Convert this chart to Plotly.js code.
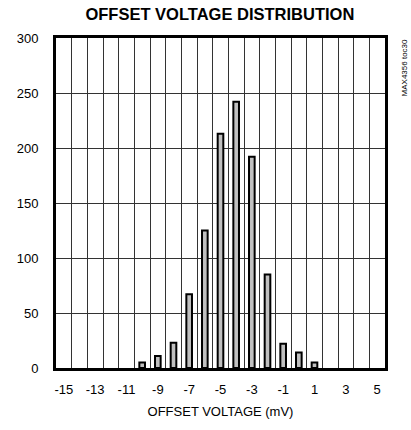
<!DOCTYPE html>
<html>
<head>
<meta charset="utf-8">
<script src="https://cdn.plot.ly/plotly-3.0.1.min.js"></script>
<style>html,body{margin:0;padding:0;background:#fff;}#chart{width:411px;height:430px;}</style>
</head>
<body>
<div id="chart"></div>
<script>
var offsetVoltage = [-10, -9, -8, -7, -6, -5, -4, -3, -2, -1, 0, 1];
var counts = [5, 11, 23, 67, 125, 213, 242, 192, 85, 22, 14, 5];
var xTickVals = [-15, -13, -11, -9, -7, -5, -3, -1, 1, 3, 5];
var xTickText = ["-15", "-13", "-11", "-9", "-7", "-5", "-3", "-1", "1", "3", "5"];
var binEdges = [-14.5, -13.5, -12.5, -11.5, -10.5, -9.5, -8.5, -7.5, -6.5, -5.5, -4.5, -3.5, -2.5, -1.5, -0.5, 0.5, 1.5, 2.5, 3.5, 4.5];
var yTickVals = [0, 50, 100, 150, 200, 250, 300];

var font = "Liberation Sans, Arial, sans-serif";

var trace = {
  type: "bar",
  x: offsetVoltage,
  y: counts,
  width: 0.36,
  marker: {color: "#c0c0c0", line: {color: "#000", width: 2}},
  hoverinfo: "x+y"
};

var layout = {
  width: 411, height: 430,
  margin: {l: 56, r: 26, t: 38, b: 62},
  paper_bgcolor: "#fff", plot_bgcolor: "#fff",
  showlegend: false,
  font: {family: font, color: "#000", size: 13},
  title: {
    text: "<b>OFFSET VOLTAGE DISTRIBUTION</b>",
    font: {family: font, size: 16.5, color: "#000"},
    x: 0.535, xanchor: "center", y: 0.967, yanchor: "middle"
  },
  xaxis: {
    range: [-15.5, 5.5],
    tickmode: "array", tickvals: xTickVals, ticktext: xTickText,
    showgrid: false, zeroline: false,
    ticks: "", ticklabelstandoff: 7,
    showline: true, mirror: true, linecolor: "#000", linewidth: 3,
    tickfont: {family: font, size: 13, color: "#000"},
    minor: {tickmode: "array", tickvals: binEdges, showgrid: true, gridcolor: "#333", gridwidth: 1, ticks: ""},
    title: {text: "OFFSET VOLTAGE (mV)", font: {family: font, size: 13, color: "#000"}, standoff: 12}
  },
  yaxis: {
    range: [0, 300],
    tickmode: "array", tickvals: yTickVals,
    showgrid: true, gridcolor: "#333", gridwidth: 1, zeroline: false,
    ticks: "", ticklabelstandoff: 12,
    showline: true, mirror: true, linecolor: "#000", linewidth: 3,
    tickfont: {family: font, size: 13, color: "#000"}
  },
  annotations: [{
    text: "MAX4356 toc30",
    xref: "paper", yref: "paper",
    x: 1.06, y: 0.91, xanchor: "center", yanchor: "middle",
    textangle: -90, showarrow: false,
    font: {family: font, size: 8, color: "#000"}
  }]
};

Plotly.newPlot("chart", [trace], layout, {displayModeBar: false, staticPlot: true});
</script>
</body>
</html>
